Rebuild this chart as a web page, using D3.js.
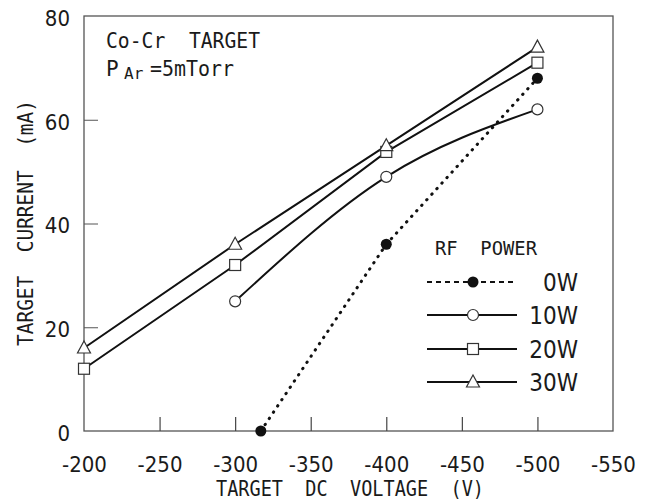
<!DOCTYPE html>
<html>
<head>
<meta charset="utf-8">
<script src="https://cdn.jsdelivr.net/npm/d3@7"></script>
<style>
  body { margin: 0; background: #fff; }
  text { fill: #1a1a1a; white-space: pre; }
</style>
</head>
<body>
<svg id="chart" width="658" height="501"></svg>
<script>
'use strict';

// values
var xTicks = [-200, -250, -300, -350, -400, -450, -500, -550];
var yTicks = [0, 20, 40, 60, 80];

var power0W  = [[-317, 0], [-400, 36], [-500, 68]];
var power10W = [[-300, 25], [-400, 49], [-500, 62]];
var power20W = [[-200, 12], [-300, 32], [-400, 53.8], [-500, 71]];
var power30W = [[-200, 16], [-300, 36], [-400, 55], [-500, 74]];

var seriesNames = ["0W", "10W", "20W", "30W"];

var svg = d3.select("#chart");
var margin = {left: 84, top: 16, right: 45, bottom: 70};
var W = 658, H = 501;

var x = d3.scaleLinear().domain([-200, -550]).range([margin.left, W - margin.right]);
var y = d3.scaleLinear().domain([0, 80]).range([H - margin.bottom, margin.top]);

var tickFont = "'DejaVu Sans Condensed', 'DejaVu Sans', sans-serif";
var labelFont = "'DejaVu Sans Mono', monospace";

// frame
svg.append("rect")
  .attr("x", x(-200)).attr("y", y(80))
  .attr("width", x(-550) - x(-200)).attr("height", y(0) - y(80))
  .attr("fill", "none").attr("stroke", "#555").attr("stroke-width", 1.3);

// axes, ticks point inward
var xAxis = svg.append("g")
  .attr("transform", "translate(0," + y(0) + ")")
  .call(d3.axisBottom(x).tickValues(xTicks).tickSize(-14).tickPadding(25).tickFormat(d3.format("d")));
xAxis.select(".domain").remove();
xAxis.selectAll(".tick line").attr("stroke", "#444").attr("stroke-width", 1.2)
  .filter(function(d){ return d == -200 || d == -550; }).remove();
xAxis.selectAll("text").attr("font-family", tickFont).attr("font-size", 22)
  .attr("fill", "#1a1a1a").text(function(d){ return "-" + Math.abs(d); });

var yAxis = svg.append("g")
  .attr("transform", "translate(" + x(-200) + ",0)")
  .call(d3.axisLeft(y).tickValues(yTicks).tickSize(-14).tickPadding(14));
yAxis.select(".domain").remove();
yAxis.selectAll(".tick line").attr("stroke", "#555").attr("stroke-width", 1)
  .filter(function(d){ return d == 0 || d == 80; }).remove();
yAxis.selectAll("text").attr("font-family", tickFont).attr("font-size", 22)
  .attr("fill", "#1a1a1a").attr("dy", "0.42em");

// axis titles
svg.append("text")
  .attr("x", 350).attr("y", 496)
  .attr("text-anchor", "middle")
  .attr("font-family", labelFont).attr("font-size", 21)
  .attr("textLength", 268).attr("lengthAdjust", "spacingAndGlyphs")
  .text("TARGET  DC  VOLTAGE  (V)");

svg.append("text")
  .attr("transform", "translate(33,223) rotate(-90)")
  .attr("text-anchor", "middle")
  .attr("font-family", labelFont).attr("font-size", 21)
  .attr("textLength", 246).attr("lengthAdjust", "spacingAndGlyphs")
  .text("TARGET  CURRENT  (mA)");

// annotation
svg.append("text")
  .attr("x", 106).attr("y", 48)
  .attr("font-family", labelFont).attr("font-size", 21)
  .attr("textLength", 154).attr("lengthAdjust", "spacingAndGlyphs")
  .text("Co-Cr  TARGET");
var par = svg.append("text")
  .attr("x", 106).attr("y", 76)
  .attr("font-family", labelFont).attr("font-size", 21);
par.append("tspan").text("P");
par.append("tspan").attr("x", 124).attr("dy", 3).attr("font-size", 16).text("Ar");
par.append("tspan").attr("x", 150).attr("dy", -3).attr("textLength", 84).attr("lengthAdjust", "spacingAndGlyphs").text("=5mTorr");

// lines
var line = d3.line().x(function(d){ return x(d[0]); }).y(function(d){ return y(d[1]); });
var smooth = d3.line().curve(d3.curveMonotoneX)
  .x(function(d){ return x(d[0]); }).y(function(d){ return y(d[1]); });

svg.append("path").datum(power0W).attr("d", line)
  .attr("fill", "none").attr("stroke", "#111").attr("stroke-width", 3)
  .attr("stroke-dasharray", "0.5,7").attr("stroke-linecap", "round");
svg.append("path").datum(power10W).attr("d", smooth)
  .attr("fill", "none").attr("stroke", "#111").attr("stroke-width", 2);
svg.append("path").datum(power20W).attr("d", line)
  .attr("fill", "none").attr("stroke", "#111").attr("stroke-width", 2);
svg.append("path").datum(power30W).attr("d", line)
  .attr("fill", "none").attr("stroke", "#111").attr("stroke-width", 2);

// markers
function drawMarker(g, kind, cx, cy) {
  if (kind == "filled") {
    g.append("circle").attr("cx", cx).attr("cy", cy).attr("r", 5.5).attr("fill", "#111");
  } else if (kind == "circle") {
    g.append("circle").attr("cx", cx).attr("cy", cy).attr("r", 5.5)
      .attr("fill", "#fff").attr("stroke", "#333").attr("stroke-width", 1.2);
  } else if (kind == "square") {
    g.append("rect").attr("x", cx - 5.5).attr("y", cy - 5.5).attr("width", 11).attr("height", 11)
      .attr("fill", "#fff").attr("stroke", "#333").attr("stroke-width", 1.2);
  } else {
    g.append("path").attr("d", "M" + cx + "," + (cy - 7) + "L" + (cx + 6.5) + "," + (cy + 5) + "L" + (cx - 6.5) + "," + (cy + 5) + "Z")
      .attr("fill", "#fff").attr("stroke", "#333").attr("stroke-width", 1.2);
  }
}

var kinds = ["filled", "circle", "square", "triangle"];
var allSeries = [power0W, power10W, power20W, power30W];
var markers = svg.append("g");
allSeries.forEach(function(s, i){
  s.forEach(function(d){ drawMarker(markers, kinds[i], x(d[0]), y(d[1])); });
});

// legend
var legend = svg.append("g");
legend.append("text")
  .attr("x", 435).attr("y", 255)
  .attr("font-family", labelFont).attr("font-size", 20)
  .attr("textLength", 102).attr("lengthAdjust", "spacingAndGlyphs")
  .text("RF  POWER");

var rowY = [282, 315, 349, 382];
seriesNames.forEach(function(name, i){
  var ly = rowY[i];
  var ln = legend.append("line")
    .attr("x1", 427).attr("x2", 517).attr("y1", ly).attr("y2", ly)
    .attr("stroke", "#111").attr("stroke-width", 2);
  if (i == 0) ln.attr("stroke-dasharray", "5,4").attr("stroke-width", 1.8);
  drawMarker(legend, kinds[i], 473, ly);
  legend.append("text")
    .attr("x", 578).attr("y", ly + 9)
    .attr("text-anchor", "end")
    .attr("font-family", tickFont).attr("font-size", 24)
    .text(name);
});
</script>
</body>
</html>
